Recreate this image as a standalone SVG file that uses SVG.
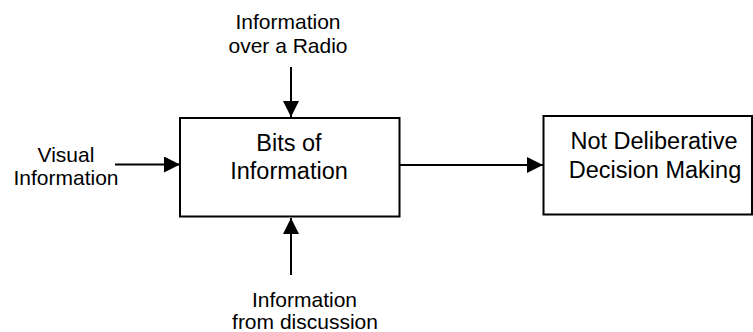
<svg xmlns="http://www.w3.org/2000/svg" width="753" height="332" viewBox="0 0 753 332">
<defs>
<marker id="ah" markerUnits="userSpaceOnUse" markerWidth="17" markerHeight="16" refX="16" refY="8" orient="auto">
<path d="M0,0 L16,8 L0,16 Z" fill="#000"/>
</marker>
<style>
.box{fill:#fff;stroke:#000;stroke-width:2}
.t{font-family:"Liberation Sans",Arial,sans-serif;fill:#000;text-anchor:middle}
.lb{font-size:21px}
.bx{font-size:23.5px}
.ln{stroke:#000;stroke-width:2;fill:none}
</style>
</defs>
<rect width="753" height="332" fill="#fff"/>
<g id="connectors">
<line class="ln" x1="291" y1="67" x2="291" y2="117" marker-end="url(#ah)"/>
<line class="ln" x1="115" y1="164.5" x2="180" y2="164.5" marker-end="url(#ah)"/>
<line class="ln" x1="291" y1="275" x2="291" y2="218" marker-end="url(#ah)"/>
<line class="ln" x1="400" y1="165" x2="543" y2="165" marker-end="url(#ah)"/>
</g>
<g id="bits">
<rect class="box" x="180" y="118" width="219.5" height="98.5"/>
<text class="t bx" x="289" y="151">Bits of</text>
<text class="t bx" x="289" y="178.5">Information</text>
</g>
<g id="decision">
<rect class="box" x="543.5" y="116" width="208.5" height="98.5"/>
<text class="t bx" x="654" y="149">Not Deliberative</text>
<text class="t bx" x="655" y="177.5">Decision Making</text>
</g>
<g id="radio">
<text class="t lb" x="288" y="29">Information</text>
<text class="t lb" x="288" y="53">over a Radio</text>
</g>
<g id="visual">
<text class="t lb" x="66" y="161.5">Visual</text>
<text class="t lb" x="66" y="185">Information</text>
</g>
<g id="discussion">
<text class="t lb" x="304.5" y="306.5">Information</text>
<text class="t lb" x="305" y="328.5">from discussion</text>
</g>
</svg>
